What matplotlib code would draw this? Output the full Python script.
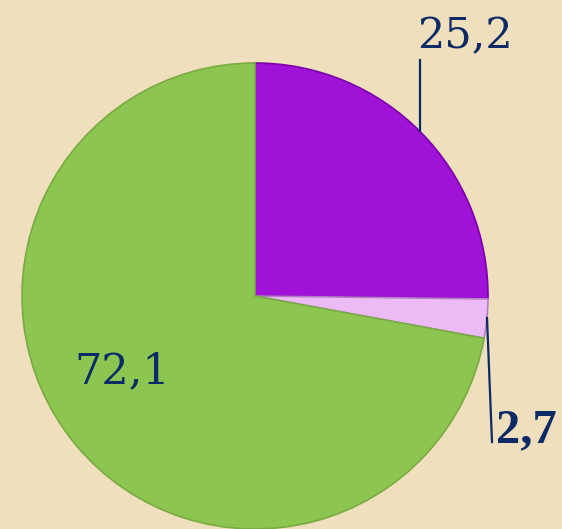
import numpy as np
import matplotlib.pyplot as plt

# slice values, clockwise from 12 o'clock
values = [25.2, 2.7, 72.1]
labels = ['25,2', '2,7', '72,1']
colors = ['#a012d8', '#ecbaf4', '#8cc54f']
edges = ['#7a00a8', '#b47cc4', '#79ab42']

W, H = 562, 529
bg = '#f0dfbd'
fig = plt.figure(figsize=(W / 100, H / 100), dpi=100)
fig.patch.set_facecolor(bg)
ax = fig.add_axes([0, 0, 1, 1])
ax.set_facecolor(bg)

cx, cy, r = 255, 296, 233
wedges, _ = ax.pie(values, colors=colors, startangle=90, counterclock=False,
                   center=(cx, cy), radius=r, frame=True,
                   wedgeprops=dict(linewidth=1.2))
# y axis is flipped below, so mirror the wedges back
for w, ec in zip(wedges, edges):
    w.set_edgecolor(ec)
    t1, t2 = w.theta1, w.theta2
    w.set_theta1(-t2)
    w.set_theta2(-t1)
ax.set_xlim(0, W)
ax.set_ylim(H, 0)
ax.set_aspect('equal')
ax.axis('off')

navy = '#0b2a66'
# leader lines
ax.plot([420, 420], [60, 131], color=navy, lw=1.6)
ax.plot([487, 492], [318, 442], color=navy, lw=1.6)

ax.text(417, 48, labels[0], family='DejaVu Serif', fontsize=31,
        color=navy, ha='left', va='baseline')
ax.text(496, 442, labels[1], family='Liberation Serif', fontweight='bold',
        fontsize=35, color=navy, ha='left', va='baseline')
ax.text(74, 383, labels[2], family='DejaVu Serif', fontsize=31,
        color=navy, ha='left', va='baseline')

fig.savefig('out.png', dpi=100, facecolor=fig.get_facecolor())
